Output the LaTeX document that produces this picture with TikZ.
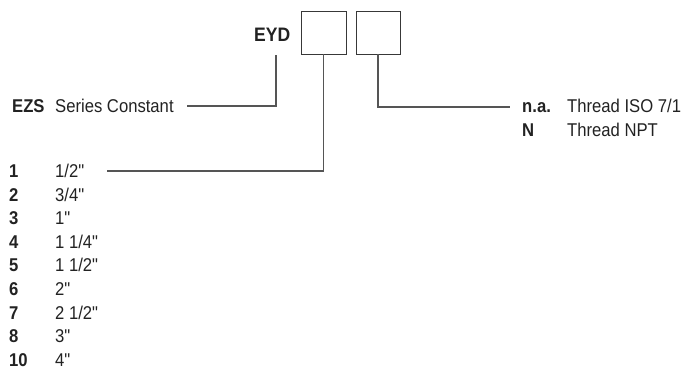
\documentclass[tikz,border=0pt]{standalone}
\usepackage{fontspec}
\setmainfont{Liberation Sans}[FakeStretch=0.9]
\definecolor{ink}{HTML}{222222}
\definecolor{wire}{HTML}{555555}
\newcommand{\qd}{\textquotedbl}
\begin{document}
\begin{tikzpicture}[x=1pt,y=-1pt,
  txt/.style={anchor=base west,inner sep=0pt,text=ink,font=\fontsize{18.5}{22}\selectfont},
  bold/.style={txt,font=\fontsize{18.5}{22}\selectfont\bfseries},
  codebox/.style={draw=ink!90,line width=0.9pt,minimum height=43pt,inner sep=0pt},
  wireline/.style={draw=wire,line width=1.2pt}]
\useasboundingbox (0,0) rectangle (682,370);
% header
\node[bold,font=\fontsize{19.5}{23}\selectfont\bfseries] (eyd) at (254,41.5) {EYD};
\node[codebox,minimum width=45pt] (b1) at (323.5,32.5) {};
\node[codebox,minimum width=44pt] (b2) at (378,32.5) {};
% series constant
\node[bold] (ezs) at (12,112) {EZS};
\node[txt] (ezst) at (55,112) {Series Constant};
\coordinate (c0) at (276,55);
\coordinate (e0) at (187,106);
\draw[wireline] (c0) |- (e0);
% thread
\node[bold] (na) at (522,112.5) {n.a.};
\node[txt] (nat) at (567,112.5) {Thread ISO 7/1};
\node[bold] (n) at (522,136) {N};
\node[txt] (nt) at (567,136) {Thread NPT};
\coordinate (e2) at (510,107);
\draw[wireline] (b2.south) |- (e2);
% sizes
\foreach \k/\v [count=\i from 0] in {1/{1/2\qd},2/{3/4\qd},3/{1\qd},4/{1 1/4\qd},5/{1 1/2\qd},6/{2\qd},7/{2 1/2\qd},8/{3\qd},10/{4\qd}}{
  \node[bold] (k\i) at (9,177.5+23.6*\i) {\k};
  \node[txt] (v\i) at (55,177.5+23.6*\i) {\v};
}
\coordinate (e1) at (107,171);
\draw[wireline] (b1.south) |- (e1);
\end{tikzpicture}
\end{document}
